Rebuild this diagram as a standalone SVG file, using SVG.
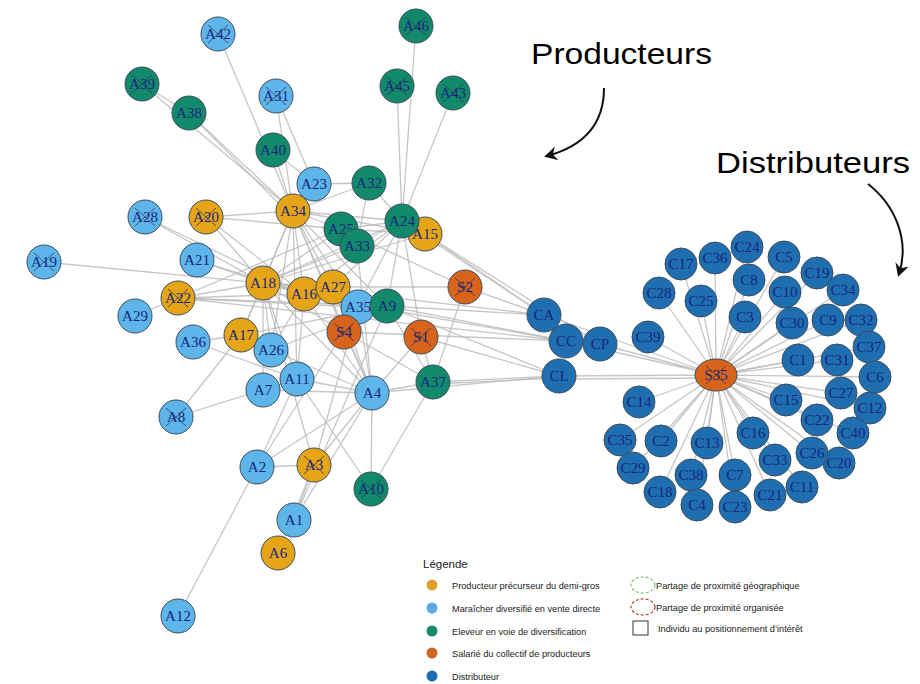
<svg xmlns="http://www.w3.org/2000/svg" width="920" height="684" viewBox="0 0 920 684">
<defs>
<style>
.e{stroke:#bcbcbc;stroke-width:1.3;opacity:.85;fill:none}
.n circle,.n ellipse{stroke:#3d4d5e;stroke-width:1}
.o{fill:#E6A516}.b{fill:#5DB5E9}.g{fill:#13896B}.r{fill:#D8641B}.d{fill:#1F6FB0}
.lb{font-family:"Liberation Serif",serif;font-size:15px;fill:#16267e;text-anchor:middle}
.x{stroke:#2a2f5a;stroke-width:1;opacity:.7}
.big{font-family:"Liberation Sans","Noto Sans",sans-serif;font-size:30px;fill:#000}
.lg{font-family:"Liberation Sans","Noto Sans",sans-serif;font-size:9.2px;fill:#222}
.arw{stroke:#111;stroke-width:2;fill:none}
</style>
<marker id="ah" markerWidth="14" markerHeight="14" refX="10" refY="7" orient="auto" markerUnits="userSpaceOnUse">
<path d="M0,0 L13,7 L0,14 L4,7 Z" fill="#111"/>
</marker>
</defs>
<rect width="920" height="684" fill="#fff"/>

<g id="connectors">
<line class="e" x1="218" y1="34" x2="293" y2="211"/>
<line class="e" x1="142" y1="84" x2="189" y2="113"/>
<line class="e" x1="142" y1="84" x2="293" y2="211"/>
<line class="e" x1="189" y1="113" x2="293" y2="211"/>
<line class="e" x1="189" y1="113" x2="290" y2="215"/>
<line class="e" x1="276" y1="96" x2="314" y2="184"/>
<line class="e" x1="276" y1="96" x2="293" y2="211"/>
<line class="e" x1="273" y1="150" x2="293" y2="211"/>
<line class="e" x1="273" y1="150" x2="314" y2="184"/>
<line class="e" x1="416" y1="26" x2="402" y2="221"/>
<line class="e" x1="397" y1="86" x2="402" y2="221"/>
<line class="e" x1="453" y1="93" x2="402" y2="221"/>
<line class="e" x1="314" y1="184" x2="293" y2="211"/>
<line class="e" x1="314" y1="184" x2="369" y2="183"/>
<line class="e" x1="369" y1="183" x2="293" y2="211"/>
<line class="e" x1="369" y1="183" x2="402" y2="221"/>
<line class="e" x1="369" y1="183" x2="357" y2="245"/>
<line class="e" x1="145" y1="217" x2="263" y2="283"/>
<line class="e" x1="145" y1="217" x2="304" y2="294"/>
<line class="e" x1="206" y1="217" x2="293" y2="211"/>
<line class="e" x1="206" y1="217" x2="263" y2="283"/>
<line class="e" x1="206" y1="217" x2="304" y2="294"/>
<line class="e" x1="206" y1="217" x2="341" y2="229"/>
<line class="e" x1="44" y1="262" x2="263" y2="283"/>
<line class="e" x1="197" y1="260" x2="263" y2="283"/>
<line class="e" x1="197" y1="260" x2="304" y2="294"/>
<line class="e" x1="178" y1="298" x2="263" y2="283"/>
<line class="e" x1="178" y1="298" x2="358" y2="307"/>
<line class="e" x1="178" y1="298" x2="387" y2="306"/>
<line class="e" x1="178" y1="298" x2="304" y2="294"/>
<line class="e" x1="178" y1="298" x2="341" y2="229"/>
<line class="e" x1="135" y1="316" x2="178" y2="298"/>
<line class="e" x1="193" y1="342" x2="241" y2="335"/>
<line class="e" x1="241" y1="335" x2="263" y2="283"/>
<line class="e" x1="241" y1="335" x2="271" y2="350"/>
<line class="e" x1="241" y1="335" x2="387" y2="306"/>
<line class="e" x1="241" y1="335" x2="293" y2="211"/>
<line class="e" x1="176" y1="417" x2="241" y2="335"/>
<line class="e" x1="176" y1="417" x2="297" y2="379"/>
<line class="e" x1="293" y1="211" x2="263" y2="283"/>
<line class="e" x1="293" y1="211" x2="304" y2="294"/>
<line class="e" x1="293" y1="211" x2="333" y2="287"/>
<line class="e" x1="293" y1="211" x2="341" y2="229"/>
<line class="e" x1="293" y1="211" x2="358" y2="307"/>
<line class="e" x1="293" y1="211" x2="402" y2="221"/>
<line class="e" x1="293" y1="211" x2="425" y2="234"/>
<line class="e" x1="293" y1="211" x2="387" y2="306"/>
<line class="e" x1="293" y1="211" x2="271" y2="350"/>
<line class="e" x1="293" y1="211" x2="344" y2="332"/>
<line class="e" x1="293" y1="211" x2="372" y2="393"/>
<line class="e" x1="293" y1="211" x2="297" y2="379"/>
<line class="e" x1="341" y1="229" x2="402" y2="221"/>
<line class="e" x1="341" y1="229" x2="425" y2="234"/>
<line class="e" x1="357" y1="245" x2="402" y2="221"/>
<line class="e" x1="357" y1="245" x2="263" y2="283"/>
<line class="e" x1="357" y1="245" x2="372" y2="393"/>
<line class="e" x1="263" y1="283" x2="304" y2="294"/>
<line class="e" x1="263" y1="283" x2="333" y2="287"/>
<line class="e" x1="263" y1="283" x2="358" y2="307"/>
<line class="e" x1="263" y1="283" x2="387" y2="306"/>
<line class="e" x1="263" y1="283" x2="341" y2="229"/>
<line class="e" x1="263" y1="283" x2="402" y2="221"/>
<line class="e" x1="263" y1="283" x2="425" y2="234"/>
<line class="e" x1="263" y1="283" x2="297" y2="379"/>
<line class="e" x1="263" y1="283" x2="372" y2="393"/>
<line class="e" x1="263" y1="283" x2="271" y2="350"/>
<line class="e" x1="263" y1="283" x2="344" y2="332"/>
<line class="e" x1="263" y1="283" x2="263" y2="390"/>
<line class="e" x1="263" y1="283" x2="544" y2="315"/>
<line class="e" x1="178" y1="298" x2="566" y2="341"/>
<line class="e" x1="304" y1="294" x2="297" y2="379"/>
<line class="e" x1="304" y1="294" x2="372" y2="393"/>
<line class="e" x1="304" y1="294" x2="271" y2="350"/>
<line class="e" x1="304" y1="294" x2="402" y2="221"/>
<line class="e" x1="333" y1="287" x2="402" y2="221"/>
<line class="e" x1="333" y1="287" x2="372" y2="393"/>
<line class="e" x1="333" y1="287" x2="465" y2="287"/>
<line class="e" x1="358" y1="307" x2="387" y2="306"/>
<line class="e" x1="358" y1="307" x2="372" y2="393"/>
<line class="e" x1="387" y1="306" x2="433" y2="382"/>
<line class="e" x1="387" y1="306" x2="544" y2="315"/>
<line class="e" x1="387" y1="306" x2="566" y2="341"/>
<line class="e" x1="390" y1="310" x2="566" y2="341"/>
<line class="e" x1="387" y1="306" x2="559" y2="376"/>
<line class="e" x1="387" y1="306" x2="402" y2="221"/>
<line class="e" x1="425" y1="234" x2="544" y2="315"/>
<line class="e" x1="425" y1="234" x2="600" y2="344"/>
<line class="e" x1="402" y1="221" x2="544" y2="315"/>
<line class="e" x1="402" y1="221" x2="421" y2="337"/>
<line class="e" x1="402" y1="221" x2="344" y2="332"/>
<line class="e" x1="465" y1="287" x2="341" y2="229"/>
<line class="e" x1="465" y1="287" x2="433" y2="382"/>
<line class="e" x1="465" y1="287" x2="544" y2="315"/>
<line class="e" x1="344" y1="332" x2="372" y2="393"/>
<line class="e" x1="344" y1="332" x2="433" y2="382"/>
<line class="e" x1="344" y1="332" x2="566" y2="341"/>
<line class="e" x1="421" y1="337" x2="433" y2="382"/>
<line class="e" x1="421" y1="337" x2="372" y2="393"/>
<line class="e" x1="421" y1="337" x2="559" y2="376"/>
<line class="e" x1="297" y1="379" x2="372" y2="393"/>
<line class="e" x1="263" y1="390" x2="372" y2="393"/>
<line class="e" x1="263" y1="390" x2="297" y2="379"/>
<line class="e" x1="271" y1="350" x2="372" y2="393"/>
<line class="e" x1="271" y1="350" x2="387" y2="306"/>
<line class="e" x1="372" y1="393" x2="433" y2="382"/>
<line class="e" x1="372" y1="393" x2="257" y2="467"/>
<line class="e" x1="372" y1="393" x2="314" y2="465"/>
<line class="e" x1="372" y1="393" x2="294" y2="520"/>
<line class="e" x1="372" y1="393" x2="559" y2="376"/>
<line class="e" x1="433" y1="382" x2="559" y2="376"/>
<line class="e" x1="433" y1="384" x2="559" y2="378"/>
<line class="e" x1="433" y1="382" x2="371" y2="489"/>
<line class="e" x1="372" y1="393" x2="371" y2="489"/>
<line class="e" x1="297" y1="379" x2="371" y2="489"/>
<line class="e" x1="257" y1="467" x2="314" y2="465"/>
<line class="e" x1="257" y1="467" x2="297" y2="379"/>
<line class="e" x1="257" y1="467" x2="178" y2="616"/>
<line class="e" x1="257" y1="467" x2="344" y2="332"/>
<line class="e" x1="314" y1="465" x2="294" y2="520"/>
<line class="e" x1="314" y1="465" x2="263" y2="283"/>
<line class="e" x1="314" y1="465" x2="358" y2="307"/>
<line class="e" x1="294" y1="520" x2="387" y2="306"/>
<line class="e" x1="278" y1="553" x2="314" y2="465"/>
<line class="e" x1="193" y1="342" x2="297" y2="379"/>
<line class="e" x1="544" y1="315" x2="716" y2="375"/>
<line class="e" x1="566" y1="341" x2="716" y2="375"/>
<line class="e" x1="600" y1="344" x2="716" y2="375"/>
<line class="e" x1="559" y1="376" x2="716" y2="375"/>
<line class="e" x1="559" y1="379" x2="716" y2="378"/>
<line class="e" x1="648" y1="337" x2="716" y2="375"/>
<line class="e" x1="681" y1="264" x2="716" y2="375"/>
<line class="e" x1="715" y1="258" x2="716" y2="375"/>
<line class="e" x1="747" y1="247" x2="716" y2="375"/>
<line class="e" x1="784" y1="257" x2="716" y2="375"/>
<line class="e" x1="817" y1="273" x2="716" y2="375"/>
<line class="e" x1="843" y1="290" x2="716" y2="375"/>
<line class="e" x1="659" y1="293" x2="716" y2="375"/>
<line class="e" x1="701" y1="301" x2="716" y2="375"/>
<line class="e" x1="749" y1="280" x2="716" y2="375"/>
<line class="e" x1="785" y1="292" x2="716" y2="375"/>
<line class="e" x1="745" y1="317" x2="716" y2="375"/>
<line class="e" x1="792" y1="323" x2="716" y2="375"/>
<line class="e" x1="828" y1="320" x2="716" y2="375"/>
<line class="e" x1="861" y1="320" x2="716" y2="375"/>
<line class="e" x1="798" y1="360" x2="716" y2="375"/>
<line class="e" x1="837" y1="360" x2="716" y2="375"/>
<line class="e" x1="869" y1="347" x2="716" y2="375"/>
<line class="e" x1="875" y1="377" x2="716" y2="375"/>
<line class="e" x1="841" y1="393" x2="716" y2="375"/>
<line class="e" x1="870" y1="408" x2="716" y2="375"/>
<line class="e" x1="786" y1="400" x2="716" y2="375"/>
<line class="e" x1="639" y1="402" x2="716" y2="375"/>
<line class="e" x1="817" y1="420" x2="716" y2="375"/>
<line class="e" x1="853" y1="433" x2="716" y2="375"/>
<line class="e" x1="753" y1="433" x2="716" y2="375"/>
<line class="e" x1="620" y1="440" x2="716" y2="375"/>
<line class="e" x1="661" y1="441" x2="716" y2="375"/>
<line class="e" x1="707" y1="443" x2="716" y2="375"/>
<line class="e" x1="812" y1="453" x2="716" y2="375"/>
<line class="e" x1="839" y1="463" x2="716" y2="375"/>
<line class="e" x1="775" y1="460" x2="716" y2="375"/>
<line class="e" x1="633" y1="468" x2="716" y2="375"/>
<line class="e" x1="691" y1="475" x2="716" y2="375"/>
<line class="e" x1="735" y1="475" x2="716" y2="375"/>
<line class="e" x1="802" y1="487" x2="716" y2="375"/>
<line class="e" x1="660" y1="492" x2="716" y2="375"/>
<line class="e" x1="770" y1="495" x2="716" y2="375"/>
<line class="e" x1="697" y1="505" x2="716" y2="375"/>
<line class="e" x1="735" y1="507" x2="716" y2="375"/>
</g>

<g id="A42" class="n"><circle class="b" cx="218" cy="34" r="17"/><text class="lb" x="218" y="39">A42</text><path class="x" d="M208,25 L228,43 M228,25 L208,43"/></g>
<g id="A39" class="n"><circle class="g" cx="142" cy="84" r="17"/><text class="lb" x="142" y="89">A39</text><path class="x" d="M132,75 L152,93 M152,75 L132,93"/></g>
<g id="A38" class="n"><circle class="g" cx="189" cy="113" r="17"/><text class="lb" x="189" y="118">A38</text></g>
<g id="A31" class="n"><circle class="b" cx="276" cy="96" r="17"/><text class="lb" x="276" y="101">A31</text><path class="x" d="M266,87 L286,105 M286,87 L266,105"/></g>
<g id="A40" class="n"><circle class="g" cx="273" cy="150" r="17"/><text class="lb" x="273" y="155">A40</text></g>
<g id="A46" class="n"><circle class="g" cx="416" cy="26" r="17"/><text class="lb" x="416" y="31">A46</text><path class="x" d="M406,17 L426,35 M426,17 L406,35"/></g>
<g id="A45" class="n"><circle class="g" cx="397" cy="86" r="17"/><text class="lb" x="397" y="91">A45</text><path class="x" d="M387,77 L407,95 M407,77 L387,95"/></g>
<g id="A43" class="n"><circle class="g" cx="453" cy="93" r="17"/><text class="lb" x="453" y="98">A43</text><path class="x" d="M443,84 L463,102 M463,84 L443,102"/></g>
<g id="A23" class="n"><circle class="b" cx="314" cy="184" r="17"/><text class="lb" x="314" y="189">A23</text></g>
<g id="A32" class="n"><circle class="g" cx="369" cy="183" r="17"/><text class="lb" x="369" y="188">A32</text></g>
<g id="A28" class="n"><circle class="b" cx="145" cy="217" r="17"/><text class="lb" x="145" y="222">A28</text><path class="x" d="M135,208 L155,226 M155,208 L135,226"/></g>
<g id="A20" class="n"><circle class="o" cx="206" cy="217" r="17"/><text class="lb" x="206" y="222">A20</text><path class="x" d="M196,208 L216,226 M216,208 L196,226"/></g>
<g id="A34" class="n"><circle class="o" cx="293" cy="211" r="17"/><text class="lb" x="293" y="216">A34</text></g>
<g id="A25" class="n"><circle class="g" cx="341" cy="229" r="17"/><text class="lb" x="341" y="234">A25</text></g>
<g id="A33" class="n"><circle class="g" cx="357" cy="246" r="17"/><text class="lb" x="357" y="251">A33</text></g>
<g id="A15" class="n"><circle class="o" cx="425" cy="234" r="17"/><text class="lb" x="425" y="239">A15</text></g>
<g id="A24" class="n"><circle class="g" cx="402" cy="221" r="17"/><text class="lb" x="402" y="226">A24</text></g>
<g id="A19" class="n"><circle class="b" cx="44" cy="262" r="17"/><text class="lb" x="44" y="267">A19</text><path class="x" d="M34,253 L54,271 M54,253 L34,271"/></g>
<g id="A21" class="n"><circle class="b" cx="197" cy="260" r="17"/><text class="lb" x="197" y="265">A21</text></g>
<g id="A18" class="n"><circle class="o" cx="263" cy="283" r="17"/><text class="lb" x="263" y="288">A18</text></g>
<g id="A16" class="n"><circle class="o" cx="304" cy="294" r="17"/><text class="lb" x="304" y="299">A16</text></g>
<g id="A27" class="n"><circle class="o" cx="333" cy="287" r="17"/><text class="lb" x="333" y="292">A27</text></g>
<g id="A22" class="n"><circle class="o" cx="178" cy="298" r="17"/><text class="lb" x="178" y="303">A22</text><path class="x" d="M168,289 L188,307 M188,289 L168,307"/></g>
<g id="A29" class="n"><circle class="b" cx="135" cy="316" r="17"/><text class="lb" x="135" y="321">A29</text></g>
<g id="A35" class="n"><circle class="b" cx="358" cy="307" r="17"/><text class="lb" x="358" y="312">A35</text></g>
<g id="A9" class="n"><circle class="g" cx="387" cy="306" r="17"/><text class="lb" x="387" y="311">A9</text></g>
<g id="S2" class="n"><circle class="r" cx="465" cy="287" r="17"/><text class="lb" x="465" y="292">S2</text><path class="x" d="M455,278 L475,296 M475,278 L455,296"/></g>
<g id="A36" class="n"><circle class="b" cx="193" cy="342" r="17"/><text class="lb" x="193" y="347">A36</text></g>
<g id="A17" class="n"><circle class="o" cx="241" cy="335" r="17"/><text class="lb" x="241" y="340">A17</text></g>
<g id="A26" class="n"><circle class="b" cx="271" cy="350" r="17"/><text class="lb" x="271" y="355">A26</text></g>
<g id="S4" class="n"><circle class="r" cx="344" cy="332" r="17"/><text class="lb" x="344" y="337">S4</text><path class="x" d="M334,323 L354,341 M354,323 L334,341"/></g>
<g id="S1" class="n"><circle class="r" cx="421" cy="337" r="17"/><text class="lb" x="421" y="342">S1</text><path class="x" d="M411,328 L431,346 M431,328 L411,346"/></g>
<g id="A7" class="n"><circle class="b" cx="263" cy="390" r="17"/><text class="lb" x="263" y="395">A7</text></g>
<g id="A11" class="n"><circle class="b" cx="297" cy="379" r="17"/><text class="lb" x="297" y="384">A11</text></g>
<g id="A4" class="n"><circle class="b" cx="372" cy="393" r="17"/><text class="lb" x="372" y="398">A4</text></g>
<g id="A37" class="n"><circle class="g" cx="433" cy="382" r="17"/><text class="lb" x="433" y="387">A37</text></g>
<g id="A8" class="n"><circle class="b" cx="176" cy="417" r="17"/><text class="lb" x="176" y="422">A8</text><path class="x" d="M166,408 L186,426 M186,408 L166,426"/></g>
<g id="A2" class="n"><circle class="b" cx="257" cy="467" r="17"/><text class="lb" x="257" y="472">A2</text></g>
<g id="A3" class="n"><circle class="o" cx="314" cy="465" r="17"/><text class="lb" x="314" y="470">A3</text><path class="x" d="M304,456 L324,474 M324,456 L304,474"/></g>
<g id="A10" class="n"><circle class="g" cx="371" cy="489" r="17"/><text class="lb" x="371" y="494">A10</text><path class="x" d="M361,480 L381,498 M381,480 L361,498"/></g>
<g id="A1" class="n"><circle class="b" cx="294" cy="520" r="17"/><text class="lb" x="294" y="525">A1</text></g>
<g id="A6" class="n"><circle class="o" cx="278" cy="553" r="17"/><text class="lb" x="278" y="558">A6</text></g>
<g id="A12" class="n"><circle class="b" cx="178" cy="616" r="17"/><text class="lb" x="178" y="621">A12</text></g>

<g id="CA" class="n"><circle class="d" cx="544" cy="315" r="17"/><text class="lb" x="544" y="320">CA</text></g>
<g id="CL" class="n"><circle class="d" cx="559" cy="376" r="17"/><text class="lb" x="559" y="381">CL</text></g>
<g id="CC" class="n"><circle class="d" cx="566" cy="341" r="17"/><text class="lb" x="566" y="346">CC</text></g>
<g id="CP" class="n"><circle class="d" cx="600" cy="344" r="17"/><text class="lb" x="600" y="349">CP</text></g>
<g id="C39" class="n"><circle class="d" cx="648" cy="337" r="16"/><text class="lb" x="648" y="342">C39</text></g>
<g id="C17" class="n"><circle class="d" cx="681" cy="264" r="16"/><text class="lb" x="681" y="269">C17</text></g>
<g id="C36" class="n"><circle class="d" cx="715" cy="258" r="16"/><text class="lb" x="715" y="263">C36</text></g>
<g id="C24" class="n"><circle class="d" cx="747" cy="247" r="16"/><text class="lb" x="747" y="252">C24</text></g>
<g id="C5" class="n"><circle class="d" cx="784" cy="257" r="16"/><text class="lb" x="784" y="262">C5</text></g>
<g id="C19" class="n"><circle class="d" cx="817" cy="273" r="16"/><text class="lb" x="817" y="278">C19</text></g>
<g id="C34" class="n"><circle class="d" cx="843" cy="290" r="16"/><text class="lb" x="843" y="295">C34</text></g>
<g id="C28" class="n"><circle class="d" cx="659" cy="293" r="16"/><text class="lb" x="659" y="298">C28</text></g>
<g id="C25" class="n"><circle class="d" cx="701" cy="301" r="16"/><text class="lb" x="701" y="306">C25</text></g>
<g id="C8" class="n"><circle class="d" cx="749" cy="280" r="16"/><text class="lb" x="749" y="285">C8</text></g>
<g id="C10" class="n"><circle class="d" cx="785" cy="292" r="16"/><text class="lb" x="785" y="297">C10</text></g>
<g id="C3" class="n"><circle class="d" cx="745" cy="317" r="16"/><text class="lb" x="745" y="322">C3</text></g>
<g id="C30" class="n"><circle class="d" cx="792" cy="323" r="16"/><text class="lb" x="792" y="328">C30</text></g>
<g id="C9" class="n"><circle class="d" cx="828" cy="320" r="16"/><text class="lb" x="828" y="325">C9</text></g>
<g id="C32" class="n"><circle class="d" cx="861" cy="320" r="16"/><text class="lb" x="861" y="325">C32</text></g>
<g id="C37" class="n"><circle class="d" cx="869" cy="347" r="16"/><text class="lb" x="869" y="352">C37</text></g>
<g id="C1" class="n"><circle class="d" cx="798" cy="360" r="16"/><text class="lb" x="798" y="365">C1</text></g>
<g id="C31" class="n"><circle class="d" cx="837" cy="360" r="16"/><text class="lb" x="837" y="365">C31</text></g>
<g id="C6" class="n"><circle class="d" cx="875" cy="377" r="16"/><text class="lb" x="875" y="382">C6</text></g>
<g id="C27" class="n"><circle class="d" cx="841" cy="393" r="16"/><text class="lb" x="841" y="398">C27</text></g>
<g id="C12" class="n"><circle class="d" cx="870" cy="408" r="16"/><text class="lb" x="870" y="413">C12</text></g>
<g id="C15" class="n"><circle class="d" cx="786" cy="400" r="16"/><text class="lb" x="786" y="405">C15</text></g>
<g id="C14" class="n"><circle class="d" cx="639" cy="402" r="16"/><text class="lb" x="639" y="407">C14</text></g>
<g id="C22" class="n"><circle class="d" cx="817" cy="420" r="16"/><text class="lb" x="817" y="425">C22</text></g>
<g id="C40" class="n"><circle class="d" cx="853" cy="433" r="16"/><text class="lb" x="853" y="438">C40</text></g>
<g id="C16" class="n"><circle class="d" cx="753" cy="433" r="16"/><text class="lb" x="753" y="438">C16</text></g>
<g id="C35" class="n"><circle class="d" cx="620" cy="440" r="16"/><text class="lb" x="620" y="445">C35</text></g>
<g id="C2" class="n"><circle class="d" cx="661" cy="441" r="16"/><text class="lb" x="661" y="446">C2</text></g>
<g id="C13" class="n"><circle class="d" cx="707" cy="443" r="16"/><text class="lb" x="707" y="448">C13</text></g>
<g id="C20" class="n"><circle class="d" cx="839" cy="463" r="16"/><text class="lb" x="839" y="468">C20</text></g>
<g id="C26" class="n"><circle class="d" cx="812" cy="453" r="16"/><text class="lb" x="812" y="458">C26</text></g>
<g id="C33" class="n"><circle class="d" cx="775" cy="460" r="16"/><text class="lb" x="775" y="465">C33</text></g>
<g id="C29" class="n"><circle class="d" cx="633" cy="468" r="16"/><text class="lb" x="633" y="473">C29</text></g>
<g id="C38" class="n"><circle class="d" cx="691" cy="475" r="16"/><text class="lb" x="691" y="480">C38</text></g>
<g id="C7" class="n"><circle class="d" cx="735" cy="475" r="16"/><text class="lb" x="735" y="480">C7</text></g>
<g id="C11" class="n"><circle class="d" cx="802" cy="487" r="16"/><text class="lb" x="802" y="492">C11</text></g>
<g id="C18" class="n"><circle class="d" cx="660" cy="492" r="16"/><text class="lb" x="660" y="497">C18</text></g>
<g id="C21" class="n"><circle class="d" cx="770" cy="495" r="16"/><text class="lb" x="770" y="500">C21</text></g>
<g id="C4" class="n"><circle class="d" cx="697" cy="505" r="16"/><text class="lb" x="697" y="510">C4</text></g>
<g id="C23" class="n"><circle class="d" cx="735" cy="507" r="16"/><text class="lb" x="735" y="512">C23</text></g>
<g id="S35" class="n"><ellipse class="r" cx="716" cy="375" rx="21" ry="16"/><text class="lb" x="716" y="380">S35</text><path class="x" d="M706,366 L726,384 M726,366 L706,384"/></g>

<g id="annotations">
<text class="big" x="531" y="64" textLength="181" lengthAdjust="spacingAndGlyphs">Producteurs</text>
<path class="arw" d="M604,88 C604,120 588,145 547,156" marker-end="url(#ah)"/>
<text class="big" x="716" y="173" textLength="194" lengthAdjust="spacingAndGlyphs">Distributeurs</text>
<path class="arw" d="M868,184 C895,205 910,240 899,274" marker-end="url(#ah)"/>
</g>

<g id="legend">
<text x="423" y="568" font-family="Liberation Sans, sans-serif" font-size="11.5" fill="#222">Légende</text>
<circle cx="432" cy="585" r="5.5" fill="#E0A02A"/>
<text class="lg" x="452" y="589">Producteur précurseur du demi-gros</text>
<circle cx="432" cy="608" r="5.5" fill="#5DA9E6"/>
<text class="lg" x="452" y="612">Maraîcher diversifié en vente directe</text>
<circle cx="432" cy="631" r="5.5" fill="#148A6A"/>
<text class="lg" x="452" y="635">Eleveur en voie de diversification</text>
<circle cx="432" cy="653" r="5.5" fill="#D0632A"/>
<text class="lg" x="452" y="657">Salarié du collectif de producteurs</text>
<circle cx="432" cy="676" r="5.5" fill="#1F6FB0"/>
<text class="lg" x="452" y="680">Distributeur</text>
<ellipse cx="643" cy="585" rx="12" ry="8" fill="none" stroke="#8cc07a" stroke-width="1.2" stroke-dasharray="3,2"/>
<text class="lg" x="656" y="589">Partage de proximité géographique</text>
<ellipse cx="643" cy="607" rx="12" ry="8" fill="none" stroke="#c0392b" stroke-width="1.2" stroke-dasharray="3,2"/>
<text class="lg" x="656" y="611">Partage de proximité organisée</text>
<rect x="633" y="621" width="15" height="14" fill="none" stroke="#333" stroke-width="1"/>
<text class="lg" x="658" y="632">Individu au positionnement d’intérêt</text>
</g>
</svg>
